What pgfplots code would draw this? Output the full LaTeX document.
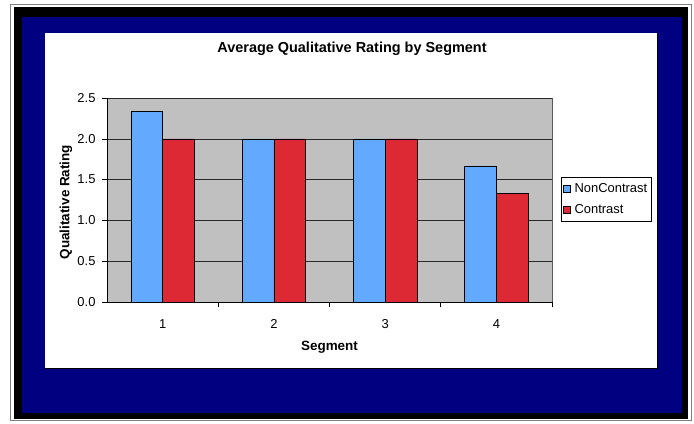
\documentclass[border=0pt]{standalone}
\usepackage{pgfplots}
\pgfplotsset{compat=1.18}
\usepackage{fontspec}
\setmainfont{Liberation Sans}
\definecolor{navyb}{RGB}{0,0,128}
\definecolor{plotgray}{RGB}{192,192,192}
\definecolor{gridc}{RGB}{40,40,40}
\definecolor{barblue}{RGB}{99,170,255}
\definecolor{barred}{RGB}{221,41,51}
\begin{document}
\begin{tikzpicture}[x=1bp,y=1bp]
\path[fill=white] (0,0) rectangle (694,423);
\draw[gray, line width=1bp] (10.5,2.5) rectangle (691.5,418.5);
\fill[black] (14,4) rectangle (688,416);
\fill[navyb] (22,10) rectangle (682,406);
\fill[white] (45,55) rectangle (657,390);
\draw[black, line width=0.8bp] (45,55) -- (657,55) -- (657,390);
\begin{axis}[
  at={(107bp,121bp)}, anchor=south west,
  scale only axis, width=445bp, height=204bp,
  xmin=0.5, xmax=4.5, ymin=0, ymax=2.5,
  xtick={1,2,3,4}, xticklabels={1,2,3,4}, major x tick style={draw=none},
  minor xtick={1.5,2.5,3.5,4.5},
  minor tick length=5bp,
  ytick={0,0.5,1,1.5,2,2.5},
  yticklabels={0.0,0.5,1.0,1.5,2.0,2.5},
  major tick length=5bp,
  tick align=outside,
  tick style={black, line width=0.6bp},
  axis x line*=bottom, axis y line*=left,
  axis line style={black, line width=0.8bp, -},
  axis background/.style={fill=plotgray, draw=gray!70!black},
  ymajorgrids, grid style={gridc, line width=0.6bp},
  ticklabel style={font=\fontsize{13}{15}\selectfont},
  xticklabel style={yshift=-9bp},
  yticklabel style={xshift=-3bp},
  title={\textbf{Average Qualitative Rating by Segment}},
  title style={font=\fontsize{14.5}{17}\selectfont, at={(rel axis cs:0.5506,1.211)}, anchor=center},
  xlabel={\textbf{Segment}},
  xlabel style={font=\fontsize{13.5}{16}\selectfont, at={(rel axis cs:0.5,-0.2206)}, anchor=center},
  ylabel={\textbf{Qualitative Rating}},
  ylabel style={font=\fontsize{13.5}{16}\selectfont, at={(rel axis cs:-0.0921,0.49)}, anchor=center},
  legend style={at={(rel axis cs:1.0202,0.6127)}, anchor=north west, draw=black, line width=0.6bp,
    font=\fontsize{13}{15}\selectfont, row sep=6.5bp, inner xsep=2bp, inner ysep=4bp},
  legend cell align=left,
  legend image code/.code={\draw[#1, draw=black, line width=0.5bp] (0bp,-3.3bp) rectangle (6.6bp,3.3bp);
    \path[draw=none, fill=none] (9bp,0bp) circle (0.01bp);},
  clip=false,
]
\addplot[ybar, bar width=31.8bp, bar shift=-15.9bp, fill=barblue, draw=black, line width=0.6bp]
  coordinates {(1,2.333) (2,2.0) (3,2.0) (4,1.667)};
\addlegendentry{NonContrast}
\addplot[ybar, bar width=31.8bp, bar shift=15.9bp, fill=barred, draw=black, line width=0.6bp]
  coordinates {(1,2.0) (2,2.0) (3,2.0) (4,1.333)};
\addlegendentry{Contrast}
\end{axis}
\end{tikzpicture}
\end{document}
